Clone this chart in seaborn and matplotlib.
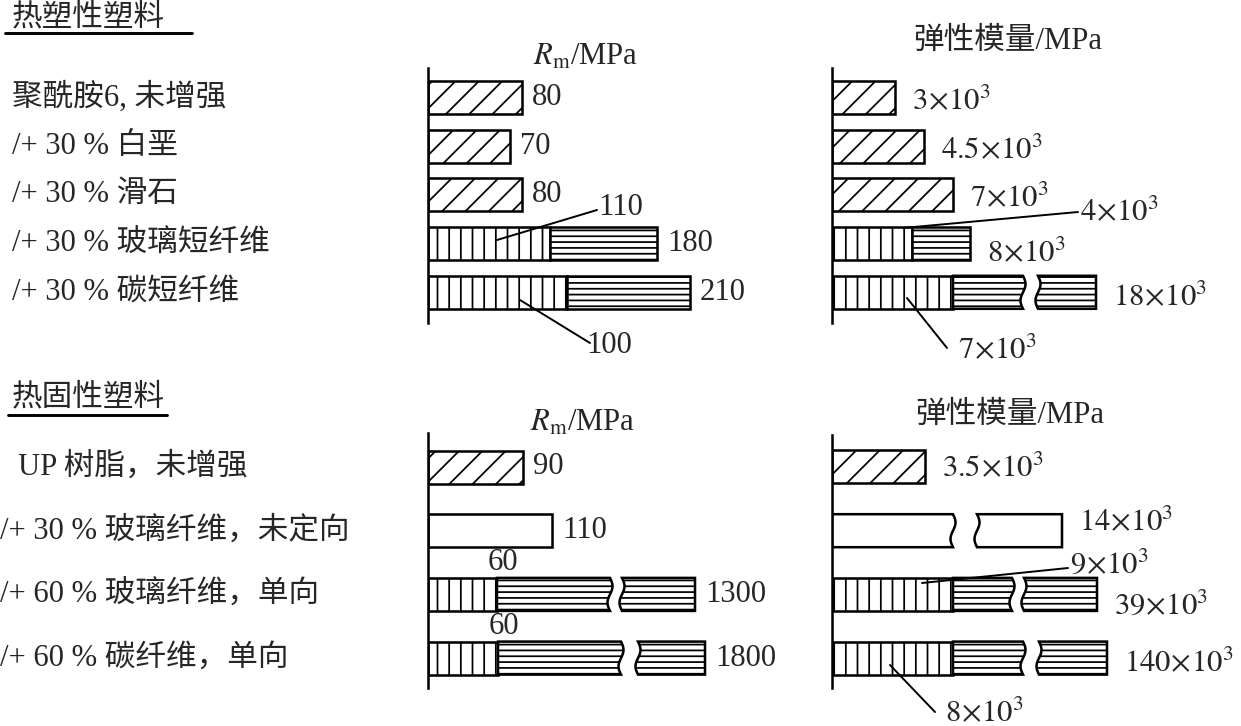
import numpy as np
import pandas as pd
import matplotlib
matplotlib.use("Agg")
import matplotlib.pyplot as plt
import seaborn as sns
from matplotlib.patches import Polygon
from matplotlib.lines import Line2D
from matplotlib.transforms import blended_transform_factory

# ---------------- data ----------------
# Thermoplastics (热塑性塑料)
tp_rows = ["聚酰胺6, 未增强", "/+ 30 % 白垩", "/+ 30 % 滑石", "/+ 30 % 玻璃短纤维", "/+ 30 % 碳短纤维"]
tp_rm = [80, 70, 80, 180, 210]                 # Rm, MPa
tp_rm_part = [None, None, None, 110, 100]      # share of first (vertical-hatched) part
tp_E = [3e3, 4.5e3, 7e3, 8e3, 18e3]            # modulus, MPa
tp_E_part = [None, None, None, 4e3, 7e3]
# schematic drawn lengths (segment 1, segment 2, break gap, tail)
tp_rm_len1 = [94, 82, 94, 122, 139]
tp_rm_len2 = [0, 0, 0, 107, 123]
tp_rm_gap = [0, 0, 0, 0, 0]
tp_rm_len3 = [0, 0, 0, 0, 0]
tp_E_len1 = [63, 92, 121, 80, 121]
tp_E_len2 = [0, 0, 0, 58, 70]
tp_E_gap = [0, 0, 0, 0, 15]
tp_E_len3 = [0, 0, 0, 0, 58]

# Thermosets (热固性塑料)
ts_rows = ["UP 树脂，未增强", "/+ 30 % 玻璃纤维，未定向", "/+ 60 % 玻璃纤维，单向", "/+ 60 % 碳纤维，单向"]
ts_rm = [90, 110, 1300, 1800]
ts_rm_part = [None, None, 60, 60]
ts_E = [3.5e3, 14e3, 39e3, 140e3]
ts_E_part = [None, None, 9e3, 8e3]
ts_rm_len1 = [95, 124, 69, 70]
ts_rm_len2 = [0, 0, 113, 123]
ts_rm_gap = [0, 0, 12, 17]
ts_rm_len3 = [0, 0, 73, 67]
ts_E_len1 = [93, 121, 121, 121]
ts_E_len2 = [0, 0, 59, 70]
ts_E_gap = [0, 24, 12, 16]
ts_E_len3 = [0, 85, 73, 68]

# styles
tp_hatch = ["/", "/", "/", "|", "|"]
ts_hatch = ["/", None, "|", "|"]
HORIZ = "--"

# ---------------- setup ----------------
sns.set_theme(style="white")
plt.rcParams["font.family"] = ["Liberation Serif", "Noto Sans CJK SC", "DejaVu Sans"]
plt.rcParams["mathtext.fontset"] = "stix"
plt.rcParams["hatch.linewidth"] = 1.8
plt.rcParams["hatch.color"] = "black"

DPI = 70
W, H = 1241, 726
fig = plt.figure(figsize=(W / DPI, H / DPI), dpi=DPI, facecolor="white")
FS = 31.5
LW = 2.6
AMP = 2.5


def add_ax(x0, y0, x1, y1):
    return fig.add_axes([x0 / W, 1 - y1 / H, (x1 - x0) / W, (y1 - y0) / H])


def px(ax, x, y):
    return ax.transData.inverted().transform((x * 1.0, H - y))


def seg(ax, x0, x1, yc, h, hatch, wave_l=False, wave_r=False):
    t = np.linspace(0, 1, 30)
    top, bot = yc - h / 2, yc + h / 2
    wav = AMP * np.sin(2 * np.pi * t)
    if wave_r:
        rx, ry = x1 + wav, top + t * h
    else:
        rx, ry = np.array([x1, x1]), np.array([top, bot])
    if wave_l:
        lx, ly = (x0 + wav)[::-1], (top + t * h)[::-1]
    else:
        lx, ly = np.array([x0, x0]), np.array([bot, top])
    pts = np.column_stack([np.concatenate([rx, lx]), np.concatenate([ry, ly])])
    ax.add_patch(Polygon(pts, closed=True, facecolor="white", edgecolor="black",
                         lw=LW, hatch=hatch, joinstyle="miter", zorder=2))


def panel(box, yc0, pitch, rows, len1, len2, gap, len3, hatches, barh):
    ax = add_ax(*box)
    df = pd.DataFrame({"row": rows, "len": len1})
    sns.barplot(data=df, x="len", y="row", orient="h", color="white", saturation=1,
                edgecolor="black", linewidth=LW, width=barh, errorbar=None, ax=ax, zorder=2)
    n = len(rows)
    for i, p in enumerate(ax.patches[:n]):
        if hatches[i]:
            p.set_hatch(hatches[i])
        broken_first = len2[i] == 0 and gap[i] > 0
        if broken_first:
            p.set_visible(False)
            seg(ax, 0, len1[i], i, barh, hatches[i], wave_r=True)
        x = len1[i]
        if len2[i] > 0:
            seg(ax, x, x + len2[i], i, barh, HORIZ, wave_r=gap[i] > 0)
            x += len2[i]
        if gap[i] > 0:
            x += gap[i]
            tail_hatch = HORIZ if len2[i] > 0 else hatches[i]
            seg(ax, x, x + len3[i], i, barh, tail_hatch, wave_l=True)
    xw = box[2] - box[0]
    ax.set_xlim(0, xw)
    ax.set_ylim((box[3] - yc0) / pitch, (box[1] - yc0) / pitch)
    for s in ["top", "right", "bottom"]:
        ax.spines[s].set_visible(False)
    ax.spines["left"].set_linewidth(2.6)
    ax.spines["left"].set_color("black")
    ax.set_xticks([])
    ax.set_yticks([])
    ax.set_xlabel("")
    ax.set_ylabel("")
    ax.patch.set_alpha(0)
    return ax


def ends(len1, len2, gap, len3):
    return [a + b + c + d for a, b, c, d in zip(len1, len2, gap, len3)]


def sci(v):
    return r"$%s\!\times\!10^{3}$" % ("%g" % (v / 1000))


# ---------------- panels ----------------
TOP_PITCH, TOP_C0 = 48.7, 97.5
BOT_PITCH, BOT_C0 = 63.7, 467.0

ax_tl = panel((428, 68, 800, 323), TOP_C0, TOP_PITCH, tp_rows, tp_rm_len1, tp_rm_len2,
              tp_rm_gap, tp_rm_len3, tp_hatch, 33 / TOP_PITCH)
ax_tr = panel((832, 68, 1241, 323), TOP_C0, TOP_PITCH, tp_rows, tp_E_len1, tp_E_len2,
              tp_E_gap, tp_E_len3, tp_hatch, 33 / TOP_PITCH)
ax_bl = panel((428, 433, 800, 688), BOT_C0, BOT_PITCH, ts_rows, ts_rm_len1, ts_rm_len2,
              ts_rm_gap, ts_rm_len3, ts_hatch, 33 / BOT_PITCH)
ax_br = panel((832, 435, 1241, 688), BOT_C0, BOT_PITCH, ts_rows, ts_E_len1, ts_E_len2,
              ts_E_gap, ts_E_len3, ts_hatch, 33 / BOT_PITCH)

# value labels: strength
for ax, vals, e in [(ax_tl, tp_rm, ends(tp_rm_len1, tp_rm_len2, tp_rm_gap, tp_rm_len3)),
                    (ax_bl, ts_rm, ends(ts_rm_len1, ts_rm_len2, ts_rm_gap, ts_rm_len3))]:
    for i, v in enumerate(vals):
        ax.text(e[i] + 10, i, "%g" % v, va="center", ha="left", fontsize=FS)

# value labels: modulus (baseline offsets in px)
tp_dy = [11.5, 12.5, 11.5, 18, 13]
ts_dy = [9, 0, 19.5, 13]
for ax, vals, e, dys, pitch in [
        (ax_tr, tp_E, ends(tp_E_len1, tp_E_len2, tp_E_gap, tp_E_len3), tp_dy, TOP_PITCH),
        (ax_br, ts_E, ends(ts_E_len1, ts_E_len2, ts_E_gap, ts_E_len3), ts_dy, BOT_PITCH)]:
    for i, v in enumerate(vals):
        ax.text(e[i] + 17, i + dys[i] / pitch, sci(v), va="baseline", ha="left", fontsize=FS)


# callouts for partial values
def callout(ax, p_in, p_out, p_txt, text, va="baseline"):
    a = px(ax, *p_in)
    b = px(ax, *p_out)
    ax.add_line(Line2D([a[0], b[0]], [a[1], b[1]], color="black", lw=2.0, clip_on=False, zorder=3))
    t = px(ax, *p_txt)
    ax.text(t[0], t[1], text, ha="left", va=va, fontsize=FS, clip_on=False)


callout(ax_tl, (497, 240), (597, 210), (598, 207), "%g" % tp_rm_part[3], va="center")
callout(ax_tl, (520, 300), (590, 343), (586, 345), "%g" % tp_rm_part[4], va="center")
callout(ax_tr, (903, 228), (1078, 212), (1080, 220), sci(tp_E_part[3]))
callout(ax_tr, (907, 298), (947, 348), (958, 358), sci(tp_E_part[4]))
callout(ax_br, (922, 583), (1068, 568), (1070, 573), sci(ts_E_part[2]))
callout(ax_br, (890, 665), (935, 712), (945, 721), sci(ts_E_part[3]))

# "60" labels above the boundary
for i, v in enumerate(ts_rm_part):
    if v is not None:
        ax_bl.text(ts_rm_len1[i] + 6, i - (33 / 2 + 15) / BOT_PITCH, "%g" % v,
                   ha="center", va="center", fontsize=FS)

# row labels
for ax, rows, xs in [(ax_tl, tp_rows, [12] * 5), (ax_bl, ts_rows, [18, 0, 0, 0])]:
    tr = blended_transform_factory(fig.transFigure, ax.transData)
    for i, r in enumerate(rows):
        fig.text(xs[i] / W, i, r, transform=tr, ha="left", va="center", fontsize=FS)

# panel titles
rm_title = r"$R_{\mathrm{m}}$/MPa"
fig.text(586 / W, 1 - 65 / H, rm_title, ha="center", va="baseline", fontsize=FS)
fig.text(583 / W, 1 - 431 / H, rm_title, ha="center", va="baseline", fontsize=FS)
fig.text(1008 / W, 1 - 49 / H, "弹性模量/MPa", ha="center", va="baseline", fontsize=FS)
fig.text(1010 / W, 1 - 423 / H, "弹性模量/MPa", ha="center", va="baseline", fontsize=FS)

# section headings with underline
fig.text(12 / W, 1 - 18 / H, "热塑性塑料", ha="left", va="center", fontsize=FS)
fig.add_artist(Line2D([5 / W, 192 / W], [1 - 33 / H] * 2, transform=fig.transFigure, color="black", lw=3))
fig.text(12 / W, 1 - 398 / H, "热固性塑料", ha="left", va="center", fontsize=FS)
fig.add_artist(Line2D([8 / W, 167 / W], [1 - 415 / H] * 2, transform=fig.transFigure, color="black", lw=3))

fig.savefig("out.png", dpi=DPI, facecolor="white")
